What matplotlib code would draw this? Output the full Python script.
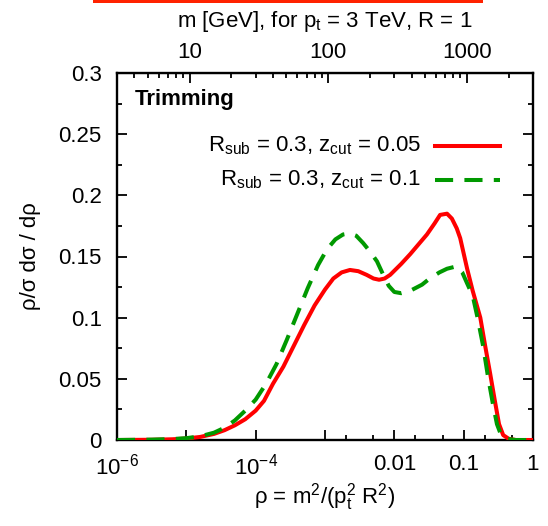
import numpy as np
import matplotlib
matplotlib.use("Agg")
import matplotlib.pyplot as plt
from matplotlib.patches import Rectangle
from matplotlib.lines import Line2D

plt.rcParams['font.family'] = ['Liberation Sans', 'DejaVu Sans']
plt.rcParams['mathtext.fontset'] = 'custom'
plt.rcParams['mathtext.rm'] = 'Liberation Sans'
plt.rcParams['mathtext.it'] = 'Liberation Sans:italic'
plt.rcParams['mathtext.bf'] = 'Liberation Sans:bold'

# ---- data (log10 rho, value) ----
red_log10rho = [-6.0, -5.5, -5.2, -5.0, -4.8, -4.6, -4.45, -4.3, -4.15, -4.0, -3.88,
                -3.75, -3.6, -3.45, -3.3, -3.15, -3.0, -2.88, -2.76, -2.64, -2.52,
                -2.40, -2.30, -2.22, -2.14, -2.06, -1.9, -1.77, -1.65, -1.53, -1.42,
                -1.34, -1.24, -1.17, -1.10, -1.05, -0.95, -0.87, -0.76, -0.69, -0.62,
                -0.55, -0.49, -0.43, -0.35, -0.25, 0.0]
red_vals = [0.0, 0.0002, 0.0006, 0.0012, 0.0025, 0.005, 0.008, 0.012, 0.017, 0.024, 0.032,
            0.046, 0.060, 0.077, 0.094, 0.110, 0.123, 0.132, 0.137, 0.139, 0.138,
            0.135, 0.132, 0.131, 0.132, 0.135, 0.144, 0.152, 0.160, 0.168, 0.177,
            0.184, 0.185, 0.181, 0.173, 0.165, 0.140, 0.122, 0.100, 0.077, 0.055,
            0.032, 0.013, 0.004, 0.001, 0.0, 0.0]

green_log10rho = [-6.0, -5.5, -5.2, -5.0, -4.8, -4.6, -4.45, -4.3, -4.15, -4.0, -3.85,
                  -3.7, -3.55, -3.4, -3.25, -3.1, -2.97, -2.85, -2.74, -2.64, -2.55,
                  -2.45, -2.35, -2.25, -2.16, -2.08, -2.0, -1.9, -1.77, -1.6, -1.49,
                  -1.35, -1.24, -1.10, -1.02, -0.95, -0.87, -0.80, -0.72, -0.65, -0.58,
                  -0.52, -0.46, -0.38, -0.25, 0.0]
green_vals = [0.0, 0.0003, 0.0008, 0.0015, 0.003, 0.006, 0.010, 0.016, 0.024, 0.033, 0.046,
              0.062, 0.082, 0.103, 0.124, 0.143, 0.156, 0.164, 0.168, 0.169, 0.167,
              0.161, 0.154, 0.146, 0.135, 0.126, 0.121, 0.120, 0.122, 0.127, 0.132,
              0.137, 0.140, 0.142, 0.137, 0.128, 0.118, 0.100, 0.077, 0.052, 0.030,
              0.013, 0.004, 0.001, 0.0, 0.0]

red_label = r"R$_{\mathrm{sub}}$ = 0.3, z$_{\mathrm{cut}}$ = 0.05"
green_label = r"R$_{\mathrm{sub}}$ = 0.3, z$_{\mathrm{cut}}$ = 0.1"

x_major = [1e-6, 1e-5, 1e-4, 1e-3, 1e-2, 1e-1, 1.0]
x_major_labels = [r"10$^{\mathrm{-6}}$", "", r"10$^{\mathrm{-4}}$", "", "0.01", "0.1", "1"]
x_minor = [2e-3, 5e-3, 2e-2, 5e-2, 2e-1, 5e-1]
y_ticks = [0, 0.05, 0.1, 0.15, 0.2, 0.25, 0.3]
y_tick_labels = ["0", "0.05", "0.1", "0.15", "0.2", "0.25", "0.3"]
m_major = [10, 100, 1000]
m_major_labels = ["10", "100", "1000"]
m_minor = [4, 5, 6, 7, 8, 9, 20, 30, 40, 50, 60, 70, 80, 90,
           200, 300, 400, 500, 600, 700, 800, 900, 2000, 3000]
pt_GeV = 3000.0

FS = 16

fig = plt.figure(figsize=(5.48, 5.26), dpi=100)
ax = fig.add_axes([117/548, 1 - 440/526, (533-117)/548, (440-73)/526])

red_rho = 10 ** np.array(red_log10rho)
green_rho = 10 ** np.array(green_log10rho)
ax.plot(red_rho, red_vals, color='#ff0000', lw=2.9, solid_joinstyle='round', zorder=3)
ax.plot(green_rho, green_vals, color='#009900', lw=2.9, dashes=(4.5, 2.8), zorder=4)

ax.set_xscale('log')
ax.set_xlim(1e-6, 1)
ax.set_ylim(0, 0.3)

ax.set_xticks(x_major)
ax.set_xticklabels(x_major_labels)
ax.set_xticks(x_minor, minor=True)
ax.set_xticklabels([], minor=True)
ax.set_yticks(y_ticks)
ax.set_yticklabels(y_tick_labels)
ax.set_yticks([0.025, 0.075, 0.125, 0.175, 0.225, 0.275], minor=True)

ax.tick_params(which='both', direction='in', labelsize=FS, width=1.3, top=False, right=True)
ax.tick_params(axis='y', which='major', length=7, pad=11)
ax.tick_params(axis='x', which='major', length=7, pad=10)
ax.tick_params(which='minor', length=3.5)
for s in ax.spines.values():
    s.set_linewidth(1.7)

ax.set_xlabel("ρ = m$^{\\mathrm{2}}$/(p$_{\\mathrm{t}}^{\\mathrm{2}}$ R$^{\\mathrm{2}}$)", fontsize=FS)
ax.xaxis.set_label_coords(0.5, -(497 - 440) / 367, transform=ax.transAxes)
ax.xaxis.label.set_va('center')
ax.set_ylabel("ρ/σ dσ / dρ", fontsize=FS)
ax.yaxis.set_label_coords(-(117 - 30) / 416, 0.5, transform=ax.transAxes)
ax.yaxis.label.set_va('center')

sec = ax.secondary_xaxis('top', functions=(lambda r: pt_GeV * np.sqrt(np.clip(r, 1e-30, None)),
                                            lambda m: (np.asarray(m) / pt_GeV) ** 2))
sec.set_xticks(m_major)
sec.set_xticklabels(m_major_labels)
sec.set_xticks(m_minor, minor=True)
sec.set_xticklabels([], minor=True)
sec.tick_params(which='both', direction='in', labelsize=FS, width=1.3)
sec.tick_params(which='major', length=7, pad=7)
sec.tick_params(which='minor', length=3.5)

fig.text(0.5 * (117 + 533) / 548, 1 - 21 / 526, r"m [GeV], for p$_{\mathrm{t}}$ = 3 TeV, R = 1",
         fontsize=FS, ha='center', va='center')

fig.text(135/548, 1 - 100/526, "Trimming", fontsize=FS, fontweight='bold', va='center', ha='left')
fig.text(421/548, 1 - 146/526, red_label, fontsize=FS, va='center', ha='right')
fig.text(421/548, 1 - 180/526, green_label, fontsize=FS, va='center', ha='right')
fig.add_artist(Line2D([435/548, 500/548], [1 - 146/526, 1 - 146/526], color='#ff0000', lw=2.9,
                      transform=fig.transFigure))
fig.add_artist(Line2D([435/548, 500/548], [1 - 180/526, 1 - 180/526], color='#009900', lw=2.9,
                      dashes=(4.5, 2.8), transform=fig.transFigure))

fig.add_artist(Rectangle((93/548, 1 - 3/526), 390/548, 3/526, transform=fig.transFigure,
                         color='#ff2200', lw=0))

fig.savefig('out.png', dpi=100)
